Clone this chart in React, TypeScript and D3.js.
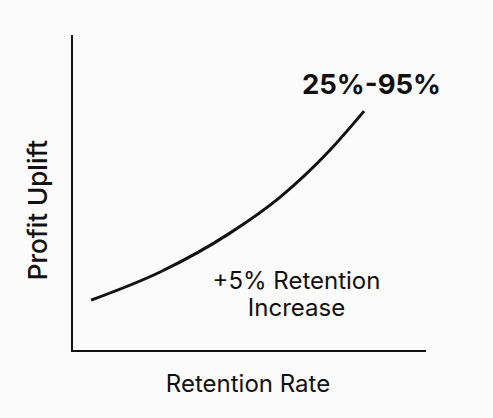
import React from "react";
import * as d3 from "d3";

const retention = [5.4, 24.9, 44.6, 58.8, 72.9, 82.5];
const profit = [16.1, 25.0, 37.3, 48.7, 63.6, 75.9];
const xLabel = "Retention Rate";
const yLabel = "Profit Uplift";
const topLabel = "25%-95%";
const noteLines = ["+5% Retention", "Increase"];

const W = 493, H = 418;

export default function App() {
  const x = d3.scaleLinear().domain([0, 100]).range([72, 426]);
  const y = d3.scaleLinear().domain([0, 100]).range([351, 35]);
  const pts = retention.map((r, i) => [r, profit[i]] as [number, number]);
  const line = d3.line<[number, number]>()
    .x(d => x(d[0]))
    .y(d => y(d[1]))
    .curve(d3.curveMonotoneX);
  const font = "Inter, 'Noto Sans', sans-serif";
  return (
    <svg width={W} height={H} style={{ position: "absolute", left: 0, top: 0, background: "#fbfbfb" }}>
      <rect x={0} y={0} width={W} height={H} fill="#fbfbfb" />
      <path d={`M${x(0)},${y(100)}V${y(0)}H${x(100)}`} fill="none" stroke="#111" strokeWidth={2} />
      <path d={line(pts) || ""} fill="none" stroke="#111" strokeWidth={3} strokeLinecap="butt" />
      <text x={248} y={392} textAnchor="middle" fontFamily={font} fontSize={24} fill="#111">{xLabel}</text>
      <text transform={`translate(47,210) rotate(-90)`} textAnchor="middle" fontFamily={font} fontSize={26} fontWeight={500} fill="#111">{yLabel}</text>
      <text x={371.5} y={94} textAnchor="middle" fontFamily={font} fontSize={27.5} fontWeight={700} fill="#111">{topLabel}</text>
      {noteLines.map((t, i) => (
        <text key={i} x={296.5} y={289 + i * 27} textAnchor="middle" fontFamily={font} fontSize={24} fill="#111">{t}</text>
      ))}
    </svg>
  );
}
